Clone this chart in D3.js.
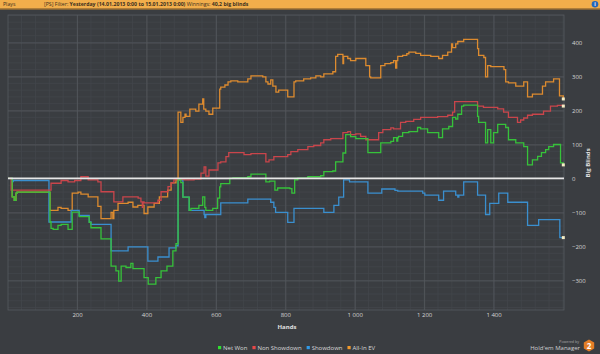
<!DOCTYPE html>
<html>
<head>
<meta charset="utf-8">
<style>
  body { margin: 0; background: #3a3d41; font-family: "Open Sans", "DejaVu Sans", sans-serif; }
  svg { display: block; }
  .tick text { fill: #d6d6d6; font-size: 6px; }
</style>
<script src="https://cdn.jsdelivr.net/npm/d3@7/dist/d3.min.js"></script>
</head>
<body>
<svg id="chart" width="600" height="354"></svg>
<script>
// step series as [hand, big blinds] break points
const netWon = [[1,0],[13,-54],[19,-64],[24,-43],[27,-40],[122,-128],[125,-147],[131,-150],[145,-138],[154,-135],[174,-150],[186,-99],[206,-112],[235,-129],[240,-145],[269,-178],[298,-258],[312,-272],[320,-302],[327,-258],[341,-262],[355,-250],[361,-265],[393,-292],[405,-311],[427,-292],[442,-272],[459,-258],[476,-213],[485,-192],[491,-4],[499,-12],[505,-55],[523,-94],[528,-88],[551,-79],[562,-54],[568,-85],[571,-94],[591,-88],[605,-58],[611,-25],[614,-15],[640,0],[649,2],[692,5],[701,13],[744,-10],[755,-8],[770,-34],[778,-28],[813,-30],[819,-43],[827,-4],[836,1],[865,5],[902,8],[911,20],[937,22],[945,49],[966,75],[974,129],[988,123],[1003,117],[1038,76],[1075,105],[1104,109],[1112,120],[1121,110],[1124,120],[1126,124],[1138,135],[1156,138],[1181,150],[1190,146],[1210,135],[1242,120],[1253,146],[1271,153],[1282,180],[1291,175],[1297,189],[1308,213],[1314,216],[1354,183],[1357,165],[1377,105],[1383,144],[1392,105],[1400,135],[1412,159],[1435,150],[1443,114],[1464,105],[1487,94],[1498,40],[1512,55],[1527,65],[1538,76],[1550,85],[1559,94],[1573,100],[1593,46],[1601,40]];

const nonShowdown = [[1,0],[10,-34],[125,-14],[154,-6],[174,-10],[193,-6],[211,5],[232,-4],[260,-10],[269,-39],[306,-69],[332,-54],[376,-58],[384,-69],[388,-85],[390,-69],[393,-72],[433,-64],[442,-39],[462,-24],[471,-13],[479,-4],[499,-2],[508,-4],[537,-2],[557,16],[566,34],[571,7],[580,25],[606,46],[614,49],[629,64],[637,76],[681,70],[701,73],[744,49],[753,55],[767,64],[807,70],[816,79],[836,85],[865,94],[882,97],[902,105],[911,114],[931,117],[966,135],[980,138],[988,129],[1003,131],[1017,124],[1032,114],[1069,135],[1081,144],[1104,149],[1112,146],[1132,165],[1147,168],[1170,174],[1190,180],[1239,182],[1268,186],[1282,195],[1288,226],[1354,213],[1371,209],[1412,205],[1429,195],[1443,180],[1469,165],[1478,172],[1487,178],[1498,186],[1512,189],[1544,198],[1564,213],[1584,215],[1601,213]];

const showdown = [[1,0],[13,-9],[16,-6],[119,-128],[183,-94],[206,-109],[235,-128],[240,-135],[298,-213],[347,-201],[404,-243],[433,-231],[465,-204],[485,-198],[491,-4],[505,-55],[523,-94],[566,-106],[568,-115],[571,-106],[614,-72],[692,-61],[758,-70],[767,-85],[772,-100],[807,-129],[825,-88],[911,-100],[940,-79],[954,-55],[968,-4],[985,-10],[1038,-43],[1078,-31],[1116,-35],[1124,-37],[1196,-43],[1202,-49],[1242,-64],[1256,-37],[1291,-49],[1297,-55],[1300,-49],[1314,-10],[1354,-49],[1377,-106],[1389,-73],[1415,-43],[1441,-70],[1498,-138],[1530,-121],[1591,-174],[1601,-174]];

const allInEV = [[1,0],[13,-54],[19,-64],[24,-43],[27,-40],[122,-94],[145,-85],[154,-88],[174,-94],[186,-43],[203,-40],[211,-46],[232,-54],[260,-82],[269,-118],[298,-100],[303,-118],[306,-94],[318,-73],[347,-70],[361,-84],[375,-79],[393,-103],[404,-84],[422,-73],[437,-54],[461,-34],[471,-13],[485,-4],[491,195],[499,165],[505,180],[511,189],[514,183],[525,204],[542,198],[551,219],[562,234],[565,204],[571,198],[580,189],[591,207],[611,263],[614,269],[626,275],[635,284],[643,287],[663,284],[692,293],[701,302],[735,299],[744,284],[750,278],[758,290],[764,272],[773,254],[781,260],[807,240],[825,284],[830,287],[853,293],[873,296],[888,302],[902,299],[911,308],[937,314],[945,359],[951,365],[966,338],[968,359],[980,353],[988,347],[1003,353],[1032,332],[1043,299],[1046,296],[1075,332],[1087,338],[1104,341],[1112,347],[1118,325],[1121,347],[1124,359],[1138,362],[1150,367],[1156,372],[1176,368],[1190,362],[1219,359],[1242,353],[1253,362],[1268,372],[1279,396],[1282,385],[1291,396],[1297,403],[1314,409],[1354,382],[1357,362],[1372,356],[1377,299],[1383,332],[1392,329],[1430,320],[1435,284],[1443,281],[1464,272],[1487,284],[1498,240],[1512,248],[1541,272],[1550,284],[1573,293],[1590,243],[1601,234]];

const seriesNames = ["Net Won", "Non Showdown", "Showdown", "All-In EV"];
const xTicks = [200, 400, 600, 800, 1000, 1200, 1400];
const yTicks = [-300, -200, -100, 0, 100, 200, 300, 400];

const colors = {
  "Net Won": "#36c23a",
  "Non Showdown": "#c9454b",
  "Showdown": "#3a8fcf",
  "All-In EV": "#dd8b2f"
};
const legendColors = {
  "Net Won": "#2fe02f",
  "Non Showdown": "#e84848",
  "Showdown": "#2f9ae8",
  "All-In EV": "#f39a2a"
};

const svg = d3.select("#chart");
const W = 600, H = 354;
const plot = { left: 8, right: 564, top: 15, bottom: 310 };

const x = d3.scaleLinear().domain([1, 1603]).range([plot.left, plot.right]);
const y = d3.scaleLinear().domain([-387, 481]).range([plot.bottom, plot.top]);

svg.append("rect").attr("width", W).attr("height", H).attr("fill", "#3a3d41");

// header bar
svg.append("rect").attr("width", W).attr("height", 8.5).attr("fill", "#f2ae4b");
svg.append("rect").attr("y", 8.5).attr("width", W).attr("height", 1).attr("fill", "#c8872e");
svg.append("text").attr("x", 3).attr("y", 6.2)
  .attr("font-size", 5.2).attr("fill", "#3b3020").text("Plays");
const head = svg.append("text").attr("x", 44).attr("y", 6.2)
  .attr("font-size", 5.2).attr("fill", "#3b3020");
head.append("tspan").text("[PS] Filter: ");
head.append("tspan").attr("font-weight", "bold").text("Yesterday (14.01.2013 0:00 to 15.01.2013 0:00)");
head.append("tspan").text(" Winnings: ");
head.append("tspan").attr("font-weight", "bold").text("40,2 big blinds");
svg.append("circle").attr("cx", 595).attr("cy", 4.2).attr("r", 3.3).attr("fill", "#2567b8");
svg.append("text").attr("x", 595).attr("y", 6.3).attr("text-anchor", "middle")
  .attr("font-size", 5).attr("font-weight", "bold").attr("fill", "#fff").text("i");

// minor grid
const g = svg.append("g");
g.selectAll(".vminor").data(d3.range(40, 1601, 40)).enter().append("line")
  .attr("x1", d => x(d)).attr("x2", d => x(d))
  .attr("y1", plot.top).attr("y2", plot.bottom)
  .attr("stroke", "#43464b").attr("stroke-width", 0.8);
g.selectAll(".hminor").data(d3.range(-380, 481, 20)).enter().append("line")
  .attr("y1", d => y(d)).attr("y2", d => y(d))
  .attr("x1", plot.left).attr("x2", plot.right)
  .attr("stroke", "#43464b").attr("stroke-width", 0.8);

// major grid + axes
const fmt = d3.formatLocale({ decimal: ",", thousands: " ", grouping: [3], currency: ["", ""] }).format(",d");
const xAxis = svg.append("g").attr("transform", `translate(0,${plot.bottom})`)
  .call(d3.axisBottom(x).tickValues(xTicks).tickSize(-(plot.bottom - plot.top)).tickFormat(fmt).tickPadding(3));
const yAxis = svg.append("g").attr("transform", `translate(${plot.right},0)`)
  .call(d3.axisRight(y).tickValues(yTicks).tickSize(-(plot.right - plot.left)).tickPadding(8));
[xAxis, yAxis].forEach(a => {
  a.select(".domain").remove();
  a.selectAll(".tick line").attr("stroke", "#55595e").attr("stroke-width", 0.8);
  a.selectAll(".tick text").attr("font-family", "Open Sans, sans-serif");
});
yAxis.selectAll(".tick text").attr("dy", "0.35em");

// frame
svg.append("rect").attr("x", plot.left).attr("y", plot.top)
  .attr("width", plot.right - plot.left).attr("height", plot.bottom - plot.top)
  .attr("fill", "none").attr("stroke", "#565a5f").attr("stroke-width", 0.8);

// series lines
const line = d3.line().x(d => x(d[0])).y(d => y(d[1])).curve(d3.curveStepAfter);
const drawOrder = [["All-In EV", allInEV], ["Showdown", showdown], ["Non Showdown", nonShowdown], ["Net Won", netWon]];
drawOrder.forEach(([name, data]) => {
  svg.append("path").datum(data)
    .attr("d", line)
    .attr("fill", "none")
    .attr("stroke", colors[name])
    .attr("stroke-width", 1.3);
});

// zero line
svg.append("line").attr("x1", plot.left).attr("x2", plot.right)
  .attr("y1", y(0)).attr("y2", y(0))
  .attr("stroke", "#e6e6e6").attr("stroke-width", 1.8);

// end markers
drawOrder.forEach(([name, data]) => {
  const last = data[data.length - 1];
  svg.append("rect").attr("x", x(last[0]) - 1.5).attr("y", y(last[1]) - 1.5)
    .attr("width", 3).attr("height", 3).attr("fill", "#f4ecc4");
});

// axis titles
svg.append("text").attr("x", 287).attr("y", 329).attr("text-anchor", "middle")
  .attr("font-size", 6).attr("font-weight", "bold").attr("fill", "#e0e0e0").text("Hands");
svg.append("text").attr("transform", "translate(590,163) rotate(-90)").attr("text-anchor", "middle")
  .attr("font-size", 6).attr("font-weight", "bold").attr("fill", "#e0e0e0").text("Big Blinds");

// legend
let lx = 218;
seriesNames.forEach(name => {
  svg.append("rect").attr("x", lx).attr("y", 346).attr("width", 3.2).attr("height", 3.2)
    .attr("fill", legendColors[name]);
  const t = svg.append("text").attr("x", lx + 5).attr("y", 350)
    .attr("font-size", 6).attr("fill", "#d8d8d8").text(name);
  lx += 5 + t.node().getComputedTextLength() + 5;
});

// branding
svg.append("text").attr("x", 579).attr("y", 342.5).attr("text-anchor", "end")
  .attr("font-size", 3.6).attr("fill", "#aaaaaa").text("Powered by");
svg.append("text").attr("x", 580).attr("y", 350).attr("text-anchor", "end")
  .attr("font-size", 6).attr("fill", "#d0d0d0").text("Hold'em Manager");
const hex = d3.range(6).map(i => {
  const a = Math.PI / 3 * i + Math.PI / 6;
  return [589 + 6 * Math.cos(a), 345.5 + 6 * Math.sin(a)];
});
svg.append("path").attr("d", "M" + hex.join("L") + "Z").attr("fill", "#e37d26");
svg.append("text").attr("x", 589).attr("y", 348.5).attr("text-anchor", "middle")
  .attr("font-size", 8).attr("font-weight", "bold").attr("fill", "#fff").text("2");
</script>
</body>
</html>
